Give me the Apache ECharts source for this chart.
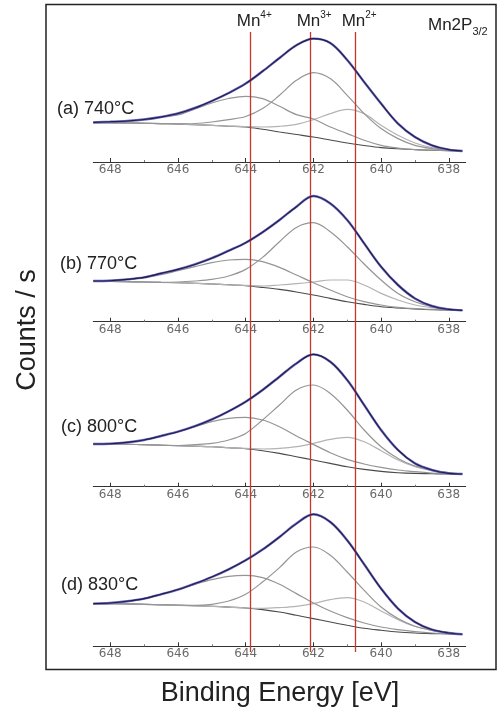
<!DOCTYPE html>
<html>
<head>
<meta charset="utf-8">
<script src="https://cdn.jsdelivr.net/npm/echarts@6/dist/echarts.min.js"></script>
<style>
html,body{margin:0;padding:0;background:#fff;}
#chart{width:497px;height:711px;}
</style>
</head>
<body>
<div id="chart"></div>
<script>
// Binding energies (eV) at which the curves were read
var energy = [648.5,648,647.5,647,646.5,646,645.5,645,644.5,644,643.5,643,642.5,642,641.5,641,640.5,640,639.5,639,638.5,638,637.6];
var tickValues = [648,646,644,642,640,638];
var minorTickValues = [647,645,643,641,639];
var refLines = [643.85, 642.08, 640.75];
var refLabels = ['Mn4+', 'Mn3+', 'Mn2+'];
var panelLabels = ['(a) 740°C', '(b) 770°C', '(c) 800°C', '(d) 830°C'];

// (a) 740°C
var bgA  = [39.4,39.2,39.0,38.7,38.4,38.0,37.3,36.6,35.8,35.0,32.7,30.0,27.5,25.0,22.0,19.0,16.5,14.4,13.2,12.4,11.8,11.4,11.0];
var envA = [39.6,40.2,41.0,42.5,45.0,48.5,54.0,61.0,69.0,78.4,90.7,104.0,116.7,123.4,119.0,102.0,80.0,58.4,38.4,25.0,16.7,12.4,11.0];
var mn4A = [39.4,40.0,41.0,42.7,45.0,47.0,53.0,59.0,63.5,65.7,63.4,55.7,47.4,43.0,35.0,28.4,21.7,16.7,14.0,12.4,11.8,11.4,11.0];
var mn3A = [39.4,39.2,39.0,38.7,38.4,38.2,38.5,40.0,42.4,45.5,53.4,66.7,81.7,89.4,83.4,66.7,48.4,33.4,23.4,16.7,13.4,11.7,11.0];
var mn2A = [39.4,39.2,39.0,38.7,38.4,38.0,37.3,36.6,35.9,35.3,35.0,35.7,37.7,42.4,48.4,52.7,48.4,36.7,26.7,19.0,14.4,12.0,11.0];
// (b) 770°C
var bgB  = [40.7,40.3,40.0,39.7,39.3,39.0,38.4,37.7,36.9,36.0,34.3,32.3,29.7,26.7,23.3,20.0,17.3,15.0,13.7,12.7,12.0,11.7,11.3];
var envB = [40.7,41.0,42.3,44.3,48.3,52.3,57.3,63.5,71.0,79.0,89.5,101.7,115.0,125.7,118.3,101.7,78.3,55.0,36.7,23.3,15.7,12.3,11.3];
var mn4B = [40.7,41.3,42.3,44.0,47.0,51.0,55.0,59.0,61.7,62.3,60.0,54.3,46.7,39.0,31.7,25.0,20.0,16.7,14.3,13.0,12.3,11.7,11.3];
var mn3B = [40.7,40.3,40.0,39.7,39.4,39.7,40.7,42.3,45.7,52.3,64.3,80.0,94.3,99.0,90.0,75.0,57.7,41.7,28.3,20.0,15.0,12.7,11.7];
var mn2B = [40.7,40.3,40.0,39.7,39.3,39.0,38.4,37.7,36.9,36.3,35.7,36.7,38.0,39.7,41.7,41.7,36.7,28.3,21.7,16.7,14.0,12.3,11.3];
// (c) 800°C
var bgC  = [42.7,42.7,42.4,42.0,41.5,41.0,40.5,40.0,39.0,38.0,36.0,33.3,30.0,26.7,23.3,20.0,17.3,15.3,14.0,13.3,13.0,12.7,12.7];
var envC = [42.7,43.0,44.3,46.7,50.7,55.0,60.5,67.3,75.5,85.0,96.7,110.0,123.3,132.3,125.0,106.7,81.7,56.7,36.7,23.3,16.7,13.3,12.7];
var mn4C = [42.7,43.0,44.3,46.7,50.7,55.0,60.0,65.0,68.3,69.3,66.7,60.0,50.7,42.3,34.0,27.3,22.7,19.3,16.7,15.0,13.7,13.0,12.7];
var mn3C = [42.7,42.7,42.4,42.0,41.5,41.2,42.0,43.3,46.7,53.3,66.7,81.7,96.7,101.7,93.3,76.7,56.7,40.0,28.3,20.7,16.7,14.0,12.7];
var mn2C = [42.7,42.7,42.4,42.0,41.5,41.0,40.5,40.0,39.0,38.3,37.7,38.3,40.0,43.3,47.3,49.3,45.0,36.0,26.7,20.0,16.0,14.0,12.7];
// (d) 830°C
var bgD  = [42.7,42.7,42.4,42.0,41.5,41.0,40.5,40.0,39.2,38.3,36.7,34.3,31.0,27.7,24.3,21.0,18.0,16.0,14.3,13.3,12.7,12.3,12.0];
var envD = [42.7,43.3,45.0,47.7,52.0,56.7,62.7,69.3,77.0,86.0,96.7,109.3,122.7,132.0,124.3,106.0,82.0,57.7,37.7,24.3,16.7,13.3,12.0];
var mn4D = [42.7,43.3,45.0,47.7,52.0,57.0,62.0,66.7,70.0,71.0,68.7,62.0,52.7,43.3,35.3,28.7,23.3,19.3,16.7,14.7,13.3,12.7,12.0];
var mn3D = [42.7,42.7,42.4,42.0,41.5,41.2,41.0,42.0,45.3,52.0,64.3,78.7,94.3,99.3,91.0,74.3,56.0,39.3,27.7,20.0,16.0,13.7,12.0];
var mn2D = [42.7,42.7,42.4,42.0,41.5,41.0,40.5,40.0,39.2,38.3,38.0,38.7,40.0,42.7,46.7,48.7,44.3,35.3,26.7,20.0,16.0,13.7,12.0];

var panels = [
  {bg: bgA, env: envA, mn4: mn4A, mn3: mn3A, mn2: mn2A},
  {bg: bgB, env: envB, mn4: mn4B, mn3: mn3B, mn2: mn2B},
  {bg: bgC, env: envC, mn4: mn4C, mn3: mn3C, mn2: mn2C},
  {bg: bgD, env: envD, mn4: mn4D, mn3: mn3D, mn2: mn2D}
];

// layout
var axisY = [162, 321.7, 486.7, 646.3];
var gridH = 145;
var gridLeft = 93.3, gridRight = 31.3;
var xMin = 637.5, xMax = 648.5;

function pairs(arr) { return energy.map(function (e, i) { return [e, arr[i]]; }); }

var grids = [], xAxes = [], yAxes = [], series = [];
panels.forEach(function (p, i) {
  grids.push({left: gridLeft, right: gridRight, top: axisY[i] - gridH, height: gridH});
  xAxes.push({
    gridIndex: i, type: 'value', min: xMin, max: xMax, inverse: true,
    axisLine: {show: true, onZero: false, lineStyle: {color: '#333', width: 1}},
    axisTick: {show: true, inside: true, length: 4, customValues: tickValues, lineStyle: {color: '#333', width: 1}},
    axisLabel: {show: true, customValues: tickValues, margin: 2, fontSize: 12, color: '#6a6a6a', fontFamily: 'DejaVu Sans'},
    splitLine: {show: false}
  });
  xAxes.push({
    gridIndex: i, type: 'value', min: xMin, max: xMax, inverse: true, position: 'bottom',
    axisLine: {show: false},
    axisTick: {show: true, inside: true, length: 2, customValues: minorTickValues, lineStyle: {color: '#777', width: 1}},
    axisLabel: {show: false},
    splitLine: {show: false}
  });
  yAxes.push({gridIndex: i, type: 'value', min: 0, max: gridH, show: false});
  var xi = i * 2;
  function line(data, color, width, z) {
    return {type: 'line', xAxisIndex: xi, yAxisIndex: i, data: pairs(data), smooth: 0.35,
      symbol: 'none', silent: true, z: z, lineStyle: {color: color, width: width}};
  }
  series.push(line(p.bg, '#4a4a4a', 1.1, 2));
  series.push(line(p.mn2, '#b3b3b3', 1.2, 3));
  series.push(line(p.mn4, '#959595', 1.2, 3));
  series.push(line(p.mn3, '#959595', 1.2, 3));
  series.push(line(p.env, '#6a66b8', 2.4, 4));
  series.push(line(p.env, '#1e1e4e', 1.1, 5));
});

// overlay grid for the reference lines
grids.push({left: gridLeft, right: gridRight, top: 32, height: 620});
xAxes.push({gridIndex: 4, type: 'value', min: xMin, max: xMax, inverse: true, show: false});
yAxes.push({gridIndex: 4, type: 'value', min: 0, max: 1, show: false});
series.push({
  type: 'line', xAxisIndex: 8, yAxisIndex: 4, data: [], silent: true, z: 10,
  markLine: {
    silent: true, symbol: 'none', animation: false,
    lineStyle: {color: '#c8372d', width: 1.3, type: 'solid'},
    label: {
      show: true, position: 'end', distance: 2, padding: [0, 0, 0, 7],
      rich: {
        b: {fontSize: 17, fontFamily: 'Liberation Sans', color: '#222', verticalAlign: 'bottom', lineHeight: 20},
        s: {fontSize: 10, fontFamily: 'Liberation Sans', color: '#222', verticalAlign: 'top', lineHeight: 12}
      }
    },
    data: refLines.map(function (v, k) {
      var lab = refLabels[k];
      return {xAxis: v, label: {formatter: '{b|' + lab.slice(0, 2) + '}{s|' + lab.slice(2) + '}'}};
    })
  }
});

var graphics = [
  {type: 'rect', shape: {x: 46, y: 4.5, width: 450, height: 665}, style: {fill: 'none', stroke: '#222', lineWidth: 1.5}, silent: true},
  {type: 'text', x: 28, y: 330, rotation: Math.PI / 2,
    style: {text: 'Counts / s', fontSize: 27, fontFamily: 'Liberation Sans', fill: '#222', align: 'center', verticalAlign: 'middle'}},
  {type: 'text', x: 280, y: 694,
    style: {text: 'Binding Energy [eV]', fontSize: 27, fontFamily: 'Liberation Sans', fill: '#222', align: 'center', verticalAlign: 'middle'}},
  {type: 'text', x: 428, y: 27,
    style: {text: '{b|Mn2P}{s|3/2}', align: 'left', verticalAlign: 'middle',
      rich: {
        b: {fontSize: 17, fontFamily: 'Liberation Sans', fill: '#222', verticalAlign: 'top', lineHeight: 20},
        s: {fontSize: 11, fontFamily: 'Liberation Sans', fill: '#222', verticalAlign: 'bottom', lineHeight: 20}
      }}}
];
var labelX = [57, 60, 61, 61];
var labelY = [109, 264, 427, 585];
panelLabels.forEach(function (t, i) {
  graphics.push({type: 'text', x: labelX[i], y: labelY[i],
    style: {text: t, fontSize: 18, fontFamily: 'Liberation Sans', fill: '#222', align: 'left', verticalAlign: 'middle'}});
});

var chart = echarts.init(document.getElementById('chart'), null, {renderer: 'canvas'});
chart.setOption({
  animation: false,
  backgroundColor: '#fff',
  grid: grids,
  xAxis: xAxes,
  yAxis: yAxes,
  series: series,
  graphic: graphics
});
</script>
</body>
</html>
